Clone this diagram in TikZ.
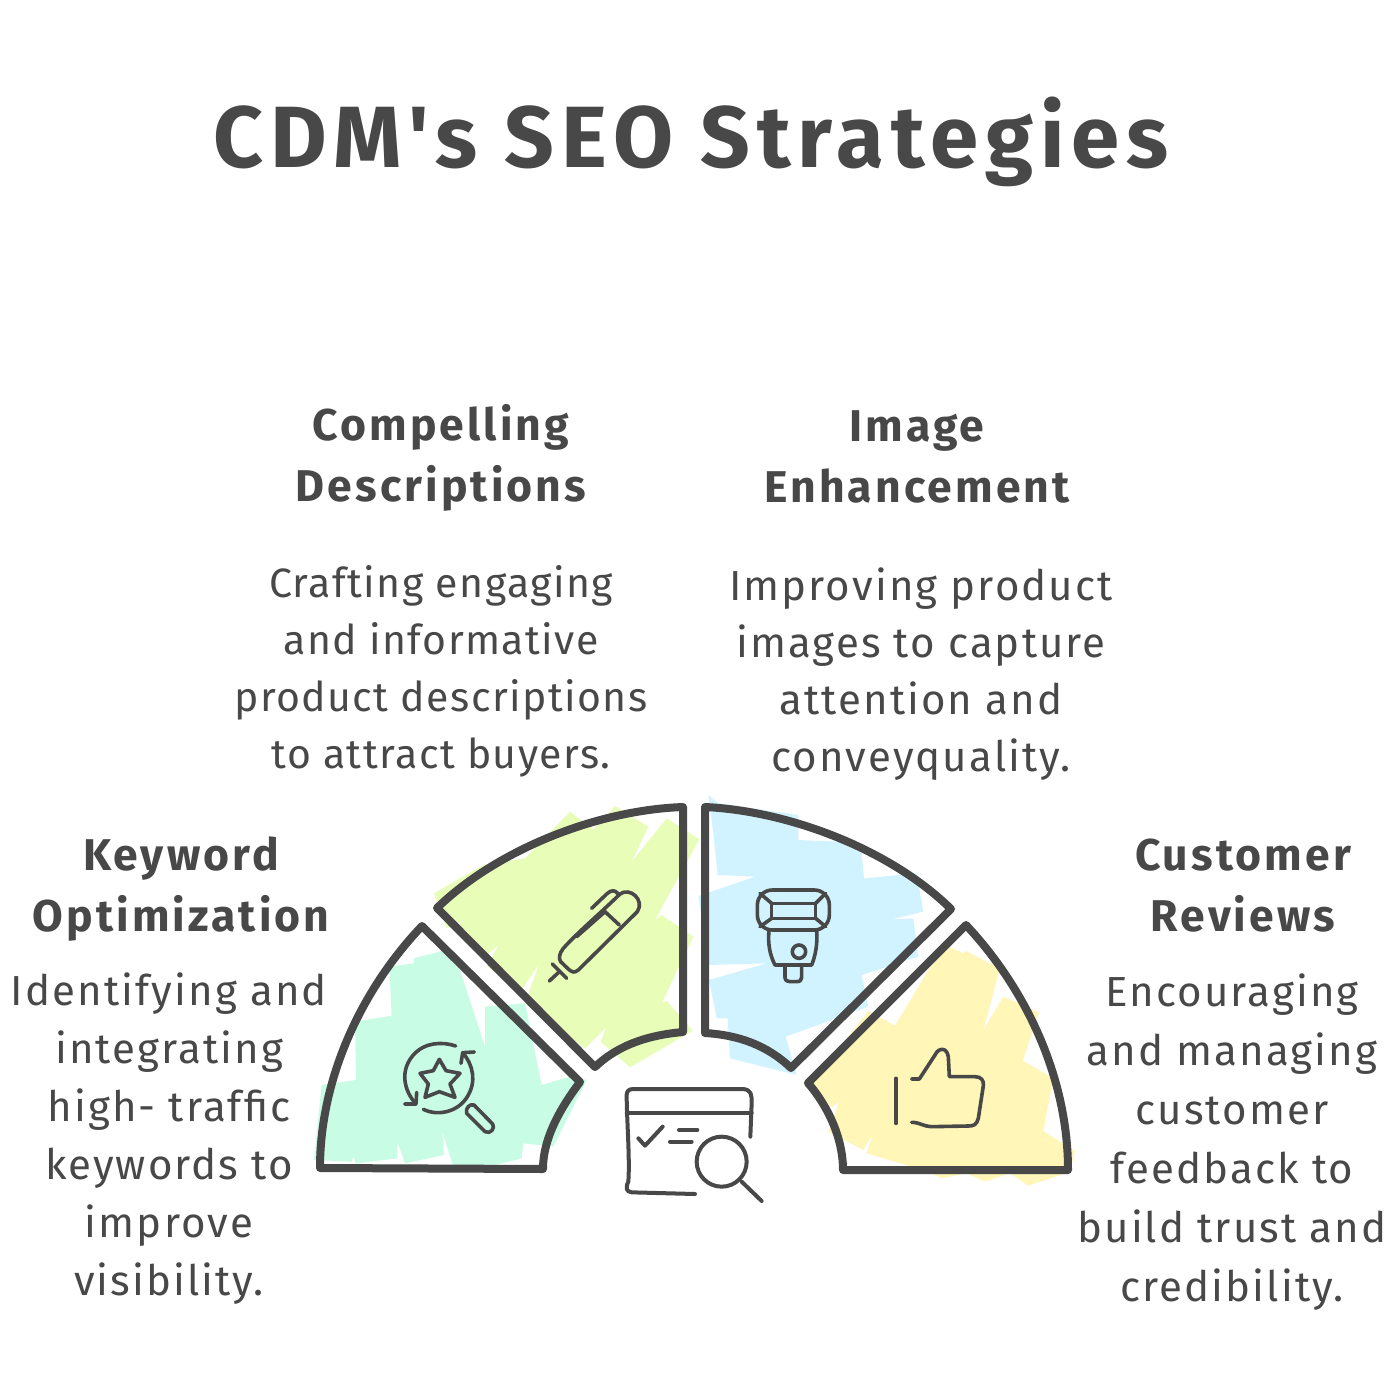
\documentclass[tikz,border=0pt]{standalone}
\usepackage{fontspec}
\setmainfont{Fira Sans}
\newfontfamily\titlef{Fira Sans}[BoldFont={Fira Sans Bold},LetterSpace=8]
\newfontfamily\headf{Fira Sans}[BoldFont={Fira Sans Bold},LetterSpace=7]
\newfontfamily\bodyf{Fira Sans}[LetterSpace=5]
\newfontfamily\bodytightf{Fira Sans}[LetterSpace=3.5]
\definecolor{ink}{HTML}{484848}
\definecolor{mintc}{HTML}{C8FCE4}
\definecolor{greenc}{HTML}{E8FDB8}
\definecolor{bluec}{HTML}{D1F3FF}
\definecolor{yellowc}{HTML}{FFF6B8}
\tikzset{
  seg/.style={draw=ink,line width=8pt,line join=round,line cap=round},
  ico/.style={draw=ink,line width=3.6pt,line join=round,line cap=round},
  titletext/.style={text=ink,font=\titlef\bfseries\fontsize{87}{87}\selectfont,anchor=center},
  headtext/.style={text=ink,align=center,font=\headf\bfseries\fontsize{44.5}{61}\selectfont,anchor=center},
  bodytext/.style={text=ink,align=center,font=\bodyf\fontsize{42}{57.2}\selectfont,anchor=center},
  bodytextc/.style={text=ink,align=center,font=\bodytightf\fontsize{41}{57}\selectfont,anchor=center},
  bodytextb/.style={text=ink,align=center,font=\bodyf\fontsize{42}{58}\selectfont,anchor=center},
  bodytextd/.style={text=ink,align=center,font=\bodyf\fontsize{42}{59}\selectfont,anchor=center}
}
\begin{document}
\begin{tikzpicture}[x=1pt,y=-1pt]
\useasboundingbox (0,0) rectangle (1400,1400);
\fill[white] (0,0) rectangle (1400,1400);
% scribble fills
\begin{scope}[shift={(310,900)},scale=1/3]
\fill[mintc] (35,555)--(138,540)--(135,365)--(245,347)--(238,200)--(312,190)--(312,175)--(400,152)--(450,210)--(525,440)--(525,320)--(645,310)--(695,555)--(780,530)--(830,540)--(800,600)--(730,740)--(640,730)--(635,775)--(555,795)--(430,800)--(397,695)--(402,765)--(285,790)--(262,725)--(262,775)--(138,790)--(130,770)--(125,785)--(12,780)--cycle;
\end{scope}
\begin{scope}[shift={(430,790)},scale=1/3]
\fill[greenc] (12,310)--(160,225)--(285,205)--(420,65)--(490,118)--(555,48)--(655,110)--(605,215)--(710,85)--(808,148)--(675,390)--(695,375)--(790,440)--(695,640)--(710,632)--(788,722)--(600,832)--(512,755)--(530,710)--(465,775)--(285,640)--(328,520)--(275,600)--(172,530)--(205,465)--(160,505)--(85,405)--(110,388)--(50,415)--cycle;
\end{scope}
\begin{scope}[shift={(695,790)},scale=1/3]
\fill[bluec] (40,15)--(70,40)--(310,75)--(310,150)--(430,155)--(500,190)--(507,265)--(665,250)--(685,365)--(590,388)--(655,385)--(670,500)--(500,555)--(520,650)--(272,740)--(305,855)--(105,805)--(98,685)--(65,685)--(42,570)--(215,520)--(42,525)--(10,318)--(180,260)--(68,255)--(55,130)--cycle;
\end{scope}
\begin{scope}[shift={(800,915)},scale=1/3]
\fill[yellowc] (85,650)--(118,558)--(95,578)--(35,505)--(205,288)--(285,332)--(385,165)--(445,95)--(490,115)--(497,108)--(600,160)--(550,345)--(610,245)--(717,292)--(668,437)--(760,490)--(730,648)--(825,708)--(810,770)--(685,812)--(630,775)--(555,800)--(500,775)--(425,790)--(385,770)--(200,715)--(220,655)--(190,705)--cycle;
\end{scope}
% segment outlines
\draw[seg] (320,1168) .. controls (320,1079) and (361,990) .. (422,926) -- (580,1082) .. controls (562,1106) and (543,1137) .. (543,1169) -- cycle;
\draw[seg] (437,908) .. controls (498,849) and (598,810) .. (683,807) -- (683,1032) .. controls (650,1035) and (619,1044) .. (595,1067) -- cycle;
\draw[seg] (705,807) .. controls (790,811) and (891,850) .. (951,909) -- (791,1068) .. controls (767,1045) and (738,1035) .. (705,1033) -- cycle;
\draw[seg] (966,925) .. controls (1027,990) and (1068,1079) .. (1068,1170) -- (843,1170) .. controls (843,1137) and (827,1105) .. (808,1083) -- cycle;
% star-search icon
\begin{scope}[shift={(310,900)},scale=1/3]
\draw[ico] (437,438) .. controls (400,425) and (345,425) .. (310,465) .. controls (270,510) and (280,570) .. (318,612);
\draw[ico] (320,577) -- (318,612) -- (284,612);
\draw[ico] (340,628) .. controls (385,650) and (445,635) .. (472,590) .. controls (500,545) and (490,495) .. (458,458);
\draw[ico] (453,490) -- (458,458) -- (493,456);
\draw[ico] (388,478) -- (408,512) -- (450,520) -- (420,552) -- (435,592) -- (388,575) -- (345,592) -- (355,552) -- (330,520) -- (370,512) -- cycle;
\draw[ico] (492,615) -- (548,672) .. controls (556,684) and (542,704) .. (525,695) -- (470,640) .. controls (465,625) and (480,610) .. (492,615) -- cycle;
\end{scope}
% pen icon
\begin{scope}[shift={(430,790)},scale=1/3]
\draw[ico] (358,573) -- (385,548);
\draw[ico] (367,522) -- (410,565);
\draw[ico] (400,475) .. controls (445,425) and (500,380) .. (570,312) .. controls (600,290) and (645,330) .. (622,365) -- (445,540) .. controls (432,550) and (425,546) .. (418,540) -- (392,515) .. controls (385,505) and (388,490) .. (400,475) -- cycle;
\draw[ico] (525,365) -- (568,405);
\draw[ico] (485,355) -- (530,312) .. controls (545,298) and (555,300) .. (565,312);
\draw[ico] (440,440) -- (525,365);
\end{scope}
% flash icon
\begin{scope}[shift={(695,790)},scale=1/3]
\draw[ico,rounded corners=15pt] (187,300) rectangle (403,420);
\draw[ico] (230,340) rectangle (362,385);
\draw[ico] (195,310) -- (230,340);
\draw[ico] (392,310) -- (362,340);
\draw[ico] (195,410) -- (230,385);
\draw[ico] (392,410) -- (362,385);
\draw[ico] (222,420) .. controls (218,465) and (225,495) .. (240,525) -- (350,525) .. controls (362,495) and (368,460) .. (365,420);
\draw[ico] (312,485) circle [radius=20];
\draw[ico] (270,530) -- (270,562) .. controls (270,572) and (278,575) .. (285,575) -- (305,575) .. controls (315,575) and (320,570) .. (320,562) -- (320,530);
\end{scope}
% thumb icon
\begin{scope}[shift={(800,915)},scale=1/3]
\draw[ico] (288,490) -- (288,625);
\draw[ico] (335,492) -- (358,492) -- (405,420) .. controls (415,398) and (440,395) .. (445,425) -- (448,485) -- (525,485) .. controls (545,485) and (552,498) .. (550,512) -- (535,610) .. controls (530,630) and (520,633) .. (505,633) -- (395,635) .. controls (365,633) and (360,622) .. (335,622);
\end{scope}
% central search icon
\begin{scope}[shift={(610,1075)},scale=1/3]
\draw[ico,line width=4pt] (255,357) -- (65,352) .. controls (50,350) and (45,340) .. (55,320) .. controls (60,250) and (50,130) .. (50,60) .. controls (50,50) and (55,42) .. (70,42) -- (400,42) .. controls (425,45) and (425,60) .. (425,85) -- (421,185);
\draw[ico,line width=4pt] (50,115) -- (425,115);
\draw[ico,line width=4pt] (85,190) -- (105,212) -- (158,155);
\draw[ico,line width=4pt] (207,165) -- (262,165);
\draw[ico,line width=4pt] (180,200) -- (245,200);
\draw[ico,line width=4pt] (335,260) circle [radius=75];
\draw[ico,line width=4pt] (395,320) -- (455,378);
\end{scope}
% texts
\node[titletext] (title) at (691,142) {CDM's SEO Strategies};
\node[headtext] (h2) at (441,458) {Compelling\\Descriptions};
\node[headtext] (h3) at (917,457) {Image\\Enhancement};
\node[headtext] (h1) at (181,889) {Keyword\\Optimization};
\node[headtext] (h4) at (1243,886) {Customer\\Reviews};
\node[bodytextc] (b2) at (441,671) {Crafting engaging\\and informative\\product descriptions\\to attract buyers.};
\node[bodytext] (b3) at (921,674) {Improving product\\images to capture\\attention and\\conveyquality.};
\node[bodytextb] (b1) at (169,1139) {Identifying and\\integrating\\high- traffic\\keywords to\\improve\\visibility.};
\node[bodytextd] (b4) at (1232,1142) {Encouraging\\and managing\\customer\\feedback to\\build trust and\\credibility.};
\end{tikzpicture}
\end{document}
